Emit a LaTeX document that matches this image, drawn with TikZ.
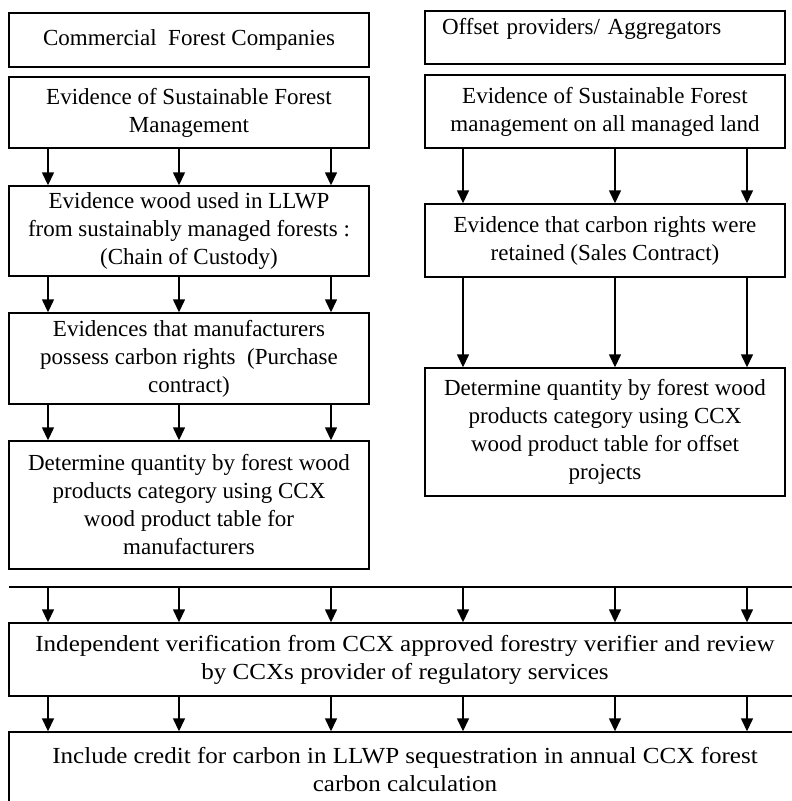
\documentclass[tikz,border=0pt]{standalone}
\usepackage{fontspec}
\setmainfont{Liberation Serif}
\newfontfamily\widefont[FakeStretch=1.09]{Liberation Serif}
\usetikzlibrary{arrows.meta}

\begin{document}
\begin{tikzpicture}[x=1pt, y=-1pt,
            box/.style={draw, line width=1.4pt, align=center, inner sep=0pt, minimum width=360pt, font=\fontsize{23}{28}\selectfont},
            wide/.style={box, minimum width=792pt, font=\widefont\fontsize{23}{28}\selectfont},
            arr/.style={line width=1.4pt, -{Triangle[width=12pt, length=13pt]}}]
            \useasboundingbox (0,0) rectangle (792,801);
            \coordinate (c1) at (48,0);
            \coordinate (c2) at (179,0);
            \coordinate (c3) at (331,0);
            \coordinate (c4) at (463,0);
            \coordinate (c5) at (615,0);
            \coordinate (c6) at (747,0);
            \node [box, minimum height=54pt] (cfc) at (189,40) {Commercial\ \ Forest Companies};
            \node [box, minimum height=71pt] (sfm) at (189,112.5) {Evidence of Sustainable Forest\\Management};
            \node [box, minimum height=90pt] (coc) at (189,231) {Evidence wood used in LLWP\\from sustainably managed forests :\\(Chain of Custody)};
            \node [box, minimum height=91pt] (pcr) at (189,358.5) {Evidences that manufacturers\\possess carbon rights\ \ (Purchase\\contract)};
            \node [box, minimum height=128pt] (qtm) at (189,505) {Determine quantity by forest wood\\products category using CCX\\wood product table for\\manufacturers};
            \node [box, minimum height=53pt, text width=326pt, align=left, text depth=23pt] (opa) at (605,37.5) {Offset providers/ Aggregators};
            \node [box, minimum height=73pt] (sfl) at (605,111.5) {Evidence of Sustainable Forest\\management on all managed land};
            \node [box, minimum height=73pt] (crr) at (605,240.5) {Evidence that carbon rights were\\retained (Sales Contract)};
            \node [box, minimum height=128pt] (qto) at (605,432) {Determine quantity by forest wood\\products category using CCX\\wood product table for offset\\projects};
            \coordinate (barL) at (9,587);
            \coordinate (barR) at (801,587);
            \node [wide, minimum height=73pt] (ver) at (405,659.5) {Independent verification from CCX approved forestry verifier and review\\by CCXs provider of regulatory services};
            \node [wide, minimum height=76pt] (inc) at (405,770) {Include credit for carbon in LLWP sequestration in annual CCX forest\\carbon calculation};
            \foreach \col in {c1,c2,c3} {
                \draw [arr] (sfm.south -| \col) -- (coc.north -| \col);
                \draw [arr] (coc.south -| \col) -- (pcr.north -| \col);
                \draw [arr] (pcr.south -| \col) -- (qtm.north -| \col);
            }
            \foreach \col in {c4,c5,c6} {
                \draw [arr] (sfl.south -| \col) -- (crr.north -| \col);
                \draw [arr] (crr.south -| \col) -- (qto.north -| \col);
            }
            \draw [line width=1.4pt] (barL) -- (barR);
            \foreach \col in {c1,c2,c3,c4,c5,c6} {
                \draw [arr] (barL -| \col) -- (ver.north -| \col);
                \draw [arr] (ver.south -| \col) -- (inc.north -| \col);
            }
        \end{tikzpicture}
\end{document}
